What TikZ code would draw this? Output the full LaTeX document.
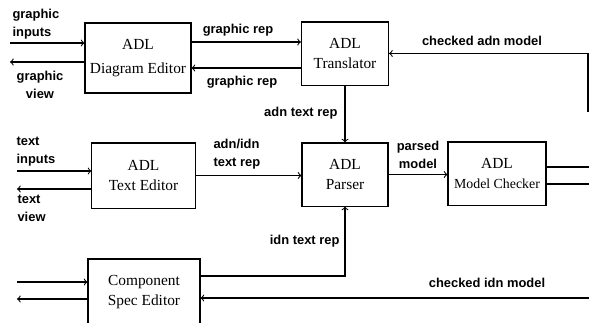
\documentclass[tikz,border=0pt]{standalone}
\usepackage{fontspec}
\setmainfont{Liberation Serif}
\setsansfont{Liberation Sans}
\usetikzlibrary{positioning}

\begin{document}
\begin{tikzpicture}[x=0.65pt, y=-0.65pt, line width=0.7pt,
    blk/.style={draw, align=center, inner sep=0pt, font=\fontsize{10}{13}\selectfont},
    lbl/.style={font=\sffamily\bfseries\fontsize{8.4}{11.5}\selectfont, inner sep=0pt}]
  \useasboundingbox (0,0) rectangle (589,322);
  \clip (0,0) rectangle (589,322);
  % tool blocks
  \node[blk, minimum width=68.9pt, minimum height=45.5pt] (dged) at (138,58) {ADL\\[2.5pt]Diagram Editor};
  \node[blk, minimum width=56.6pt, minimum height=41pt] (trans) at (345,53.5) {ADL\\Translator};
  \node[blk, minimum width=67pt, minimum height=42.3pt] (txed) at (143.5,175.5) {ADL\\Text Editor};
  \node[blk, minimum width=55.9pt, minimum height=41pt] (parser) at (345,174.5) {ADL\\Parser};
  \node[blk, minimum width=63.7pt, minimum height=41pt] (check) at (497,173.5) {ADL\\\small Model Checker};
  \node[blk, minimum width=72.8pt, minimum height=42.9pt] (comp) at (144,292) {Component\\Spec Editor};
  % loose ends at the edges
  \coordinate (gin) at (10,43);
  \coordinate (gout) at (10,62);
  \coordinate (tin) at (17,171);
  \coordinate (tout) at (17,189);
  \coordinate (cin) at (17,282);
  \coordinate (cout) at (17,299);
  \coordinate (grfwd) at (0,42);
  \coordinate (grback) at (0,68);
  \coordinate (adnret) at (588,112);
  \coordinate (mcup) at (589,167);
  \coordinate (mclo) at (589,184);
  \coordinate (idnup) at (345,276);
  \coordinate (idnret) at (589,298);
  % connectors
  \draw[->] (gin) -- (gin -| dged.west);
  \draw[->] (dged.west |- gout) -- (gout);
  \draw[->] (dged.east |- grfwd) -- (trans.west |- grfwd);
  \draw[->] (trans.west |- grback) -- (dged.east |- grback);
  \draw[->] (adnret) -- (adnret |- trans.east) -- (trans.east);
  \draw[->] (trans.south) -- (parser.north);
  \draw[->] (tin) -- (tin -| txed.west);
  \draw[->] (txed.west |- tout) -- (tout);
  \draw[->] (txed.east) -- (txed.east -| parser.west);
  \draw[->] (parser.east) -- (parser.east -| check.west);
  \draw (check.east |- mcup) -- (mcup);
  \draw (check.east |- mclo) -- (mclo);
  \draw[->] (cin) -- (cin -| comp.west);
  \draw[->] (comp.west |- cout) -- (cout);
  \draw[->] (comp.east |- idnup) -- (idnup) -- (parser.south);
  \draw[->] (idnret) -- (idnret -| comp.east);
  % connector labels
  \node[lbl, align=left, anchor=north west] (lgin) at (12,9) {graphic\\inputs};
  \node[lbl, align=center, anchor=north] (lgout) at (40,71) {graphic\\view};
  \node[lbl, anchor=north] (lgrf) at (238,24) {graphic rep};
  \node[lbl, anchor=north] (lgrb) at (242,76) {graphic rep};
  \node[lbl, anchor=north] (ladn) at (482,36) {checked adn model};
  \node[lbl, anchor=north east] (ladntx) at (338,107) {adn text rep};
  \node[lbl, align=left, anchor=north west] (ltin) at (16,137) {text\\inputs};
  \node[lbl, align=left, anchor=north west] (ltout) at (17,195) {text\\view};
  \node[lbl, align=left, anchor=north west] (lmix) at (213,139) {adn/idn\\text rep};
  \node[lbl, align=center, anchor=north] (lpm) at (418,141) {parsed\\model};
  \node[lbl, anchor=north east] (lidntx) at (340,235) {idn text rep};
  \node[lbl, anchor=north] (lidn) at (487,278) {checked idn model};
\end{tikzpicture}
\end{document}
